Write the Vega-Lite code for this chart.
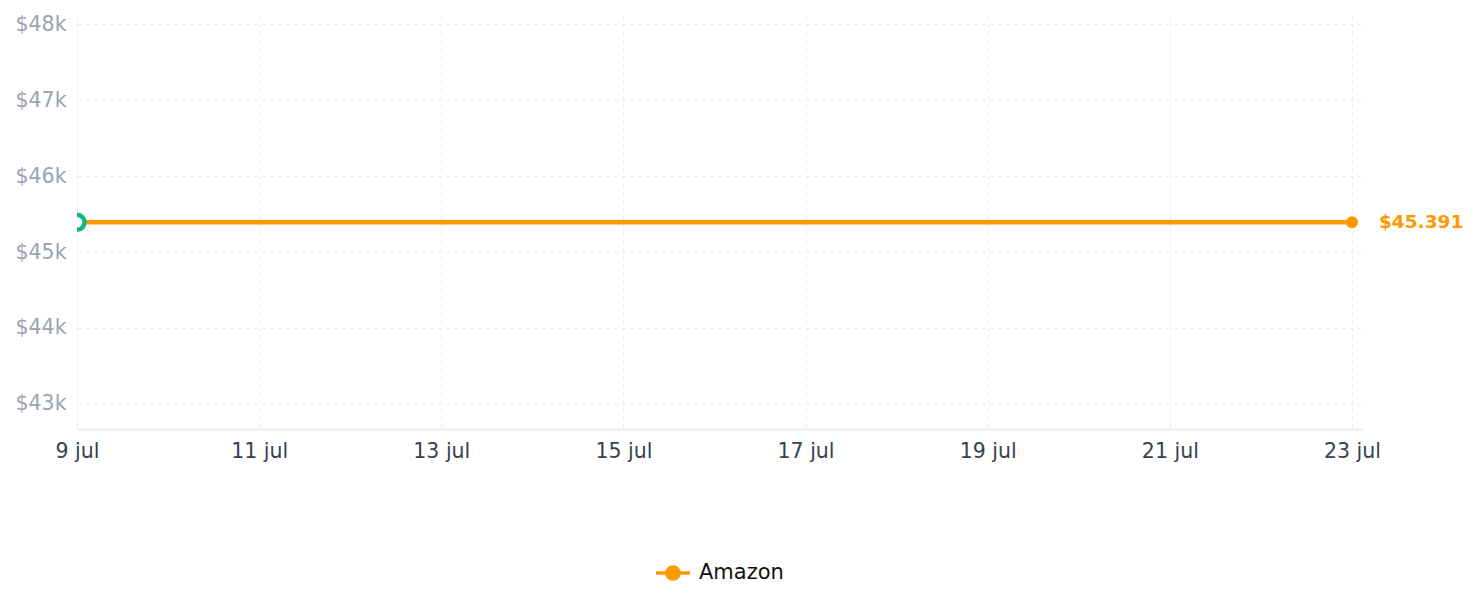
{
  "$schema": "https://vega.github.io/schema/vega-lite/v6.json",
  "width": 1286,
  "height": 414,
  "autosize": {"type": "none"},
  "padding": {"left": 77, "top": 15, "right": 116, "bottom": 178},
  "background": "white",
  "config": {
    "view": {"stroke": null},
    "font": "DejaVu Sans",
    "locale": {
      "number": {"decimal": ",", "thousands": ".", "grouping": [3], "currency": ["$", ""]},
      "time": {
        "dateTime": "%A, %e de %B de %Y, %X",
        "date": "%d/%m/%Y",
        "time": "%H:%M:%S",
        "periods": ["AM", "PM"],
        "days": ["domingo", "lunes", "martes", "miércoles", "jueves", "viernes", "sábado"],
        "shortDays": ["dom", "lun", "mar", "mié", "jue", "vie", "sáb"],
        "months": ["enero", "febrero", "marzo", "abril", "mayo", "junio", "julio", "agosto", "septiembre", "octubre", "noviembre", "diciembre"],
        "shortMonths": ["ene", "feb", "mar", "abr", "may", "jun", "jul", "ago", "sep", "oct", "nov", "dic"]
      }
    }
  },
  "data": {
    "values": [
      {"date": "2024-07-09", "store": "Amazon", "price": 45391},
      {"date": "2024-07-23", "store": "Amazon", "price": 45391}
    ]
  },
  "encoding": {
    "x": {
      "field": "date",
      "type": "temporal",
      "title": null,
      "scale": {
        "type": "utc",
        "domain": [
          {"year": 2024, "month": 7, "date": 9, "utc": true},
          {"year": 2024, "month": 7, "date": 23, "hours": 2, "minutes": 54, "utc": true}
        ],
        "nice": false
      },
      "axis": {
        "tickCount": {"interval": "day", "step": 2},
        "labelExpr": "utcFormat(datum.value, '%-d %b')",
        "labelFont": "DejaVu Sans",
        "labelFontSize": 20.5,
        "labelColor": "#374151",
        "labelPadding": 12,
        "ticks": false,
        "domain": true,
        "domainColor": "#e5e7eb",
        "domainWidth": 1.5,
        "grid": true,
        "gridColor": "#ebebeb",
        "gridDash": [4, 4],
        "gridWidth": 1,
        "labelFlush": false,
        "labelOverlap": false
      }
    },
    "y": {
      "field": "price",
      "type": "quantitative",
      "title": null,
      "scale": {"domain": [42670, 48120], "nice": false, "zero": false},
      "axis": {
        "values": [43000, 44000, 45000, 46000, 47000, 48000],
        "labelExpr": "'$' + (datum.value / 1000) + 'k'",
        "labelFont": "DejaVu Sans",
        "labelFontSize": 20.5,
        "labelColor": "#9ca3af",
        "labelPadding": 11,
        "ticks": false,
        "domain": false,
        "grid": true,
        "gridColor": "#ebebeb",
        "gridDash": [4, 4],
        "gridWidth": 1
      }
    }
  },
  "layer": [
    {
      "mark": {"type": "line", "strokeWidth": 4.5, "clip": true},
      "encoding": {
        "color": {
          "field": "store",
          "type": "nominal",
          "scale": {"domain": ["Amazon"], "range": ["#ff9900"]},
          "legend": {
            "title": null,
            "orient": "none",
            "legendX": 577,
            "legendY": 539,
            "symbolType": "M-1,0L1,0M-0.36,0A0.36,0.36 0 1,1 0.36,0A0.36,0.36 0 1,1 -0.36,0Z",
            "symbolSize": 1156,
            "symbolStrokeWidth": 3.5,
            "symbolFillColor": "#ff9900",
            "symbolStrokeColor": "#ff9900",
            "labelFont": "DejaVu Sans",
            "labelFontSize": 21,
            "labelColor": "#111111",
            "labelOffset": 7
          }
        }
      }
    },
    {
      "transform": [{"filter": "utcdate(datum.date) == 9"}],
      "mark": {"type": "point", "shape": "circle", "filled": false, "fill": "white", "stroke": "#10b981", "strokeWidth": 4.5, "size": 225, "opacity": 1, "clip": true}
    },
    {
      "transform": [{"filter": "utcdate(datum.date) == 23"}],
      "mark": {"type": "point", "shape": "circle", "filled": true, "color": "#ff9900", "size": 144, "opacity": 1, "clip": false}
    },
    {
      "transform": [{"filter": "utcdate(datum.date) == 23"}],
      "mark": {"type": "text", "align": "left", "baseline": "middle", "dx": 27, "font": "DejaVu Sans", "fontSize": 18.5, "fontWeight": "bold", "color": "#ff9900"},
      "encoding": {"text": {"field": "price", "type": "quantitative", "format": "$,.0f"}}
    }
  ]
}
